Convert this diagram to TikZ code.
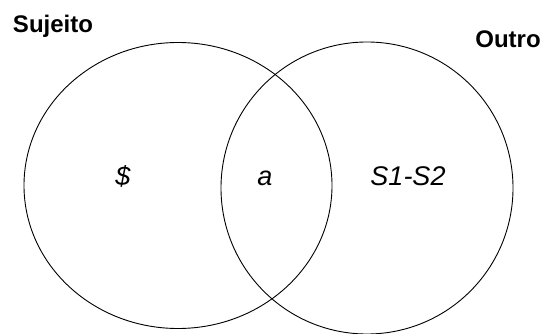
\documentclass[tikz,border=0pt]{standalone}
\usepackage{fontspec}
\setmainfont{Liberation Sans}
\usepackage{tikz}
\usetikzlibrary{positioning,shapes.geometric}

\begin{document}
\begin{tikzpicture}[
  x=1pt, y=1pt,
  conj/.style={draw, ellipse, line width=0.9pt, inner sep=0pt},
  titulo/.style={font=\fontsize{24}{28}\selectfont\bfseries, inner sep=0pt, anchor=base},
  elem/.style={font=\fontsize{27}{32}\selectfont\itshape, inner sep=0pt, anchor=base},
]
\useasboundingbox (0,0) rectangle (548,-334);
\node[conj, minimum width=308pt, minimum height=286pt] (sujeito) at (178,-185.5) {};
\node[conj, minimum width=292pt, minimum height=292pt] (outro)   at (367,-188) {};

\node[titulo] (tsujeito) at (53,-33) {Sujeito};
\node[titulo] (toutro)   at (508,-48) {Outro};

\node[elem] (barrado) at (123,-185) {\$};
\node[elem] (objeto)  at (265,-185) {a};
\node[elem] (cadeia)  at (408,-185) {S1-S2};
\end{tikzpicture}
\end{document}
